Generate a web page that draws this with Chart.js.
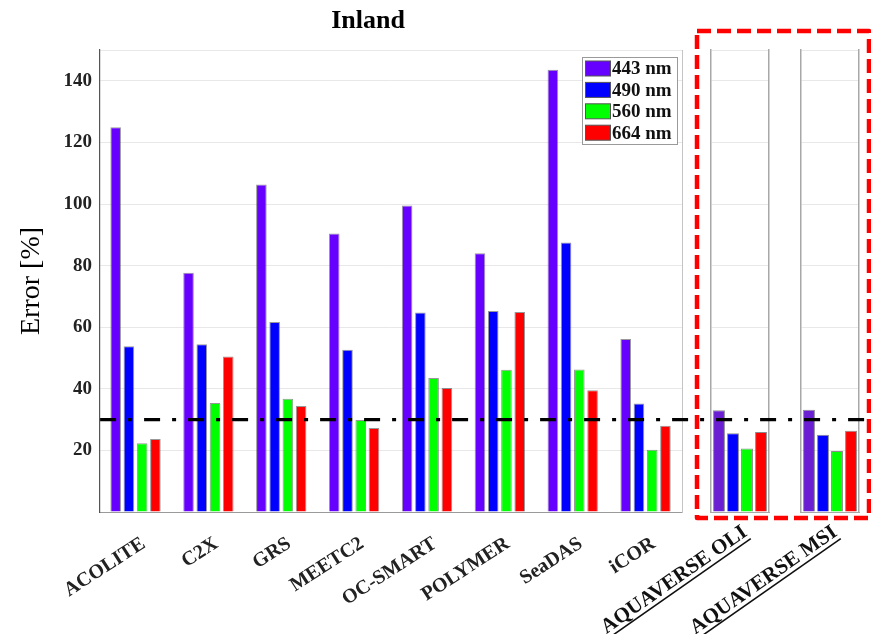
<!DOCTYPE html>
<html>
<head>
<meta charset="utf-8">
<script src="https://cdn.jsdelivr.net/npm/chart.js@4.4.0/dist/chart.umd.min.js"></script>
<style>
  body { margin: 0; background: #fff; }
  #wrap { position: relative; width: 871px; height: 634px; }
  #wrap canvas { position: absolute; left: 0; top: 0; }
</style>
</head>
<body>
<div id="wrap">
  <canvas id="panelOli" width="871" height="634" style="z-index:1"></canvas>
  <canvas id="panelMsi" width="871" height="634" style="z-index:2"></canvas>
  <canvas id="main" width="871" height="634" style="z-index:3"></canvas>
</div>
<script>
// Datos (error en %)
const algoritmos = ['ACOLITE', 'C2X', 'GRS', 'MEETC2', 'OC-SMART', 'POLYMER', 'SeaDAS', 'iCOR'];
const aquaverse = ['AQUAVERSE OLI', 'AQUAVERSE MSI'];
const bandas = ['443 nm', '490 nm', '560 nm', '664 nm'];
const err443 = [124.9, 77.7, 106.3, 90.4, 99.5, 84.0, 143.6, 56.2];
const err490 = [53.8, 54.5, 61.7, 52.7, 64.8, 65.3, 87.5, 35.2];
const err560 = [22.3, 35.4, 36.8, 29.9, 43.5, 46.2, 46.3, 20.2];
const err664 = [23.7, 50.5, 34.4, 27.3, 40.3, 64.9, 39.5, 28.0];
const aquaOli = [33.0, 25.6, 20.6, 26.0];
const aquaMsi = [33.2, 25.1, 19.8, 26.4];
const umbral = 30;

// Estilos y posiciones de los paneles
const serif = 'Liberation Serif';
const colores = ['#6600ff', '#0000ff', '#00ff00', '#ff0000'];
const coloresPanel = ['#6a1fd2', '#0000ff', '#00ff00', '#ff0000'];
const panelSlots = [{ left: 711, right: 769 }, { left: 801, right: 859 }];
const seriesMain = [err443, err490, err560, err664];

// Leyenda dentro del area del grafico
const leyenda = {
    id: 'leyenda',
    afterDatasetsDraw(chart) {
        const ctx = chart.ctx, area = chart.chartArea;
        const w = 95, rowH = 21.4, h = 87;
        const left = area.right - 5 - w, top = area.top + 7;
        ctx.save();
        ctx.fillStyle = '#fff';
        ctx.fillRect(left, top, w, h);
        ctx.strokeStyle = '#9a9a9a';
        ctx.lineWidth = 1;
        ctx.strokeRect(left + 0.5, top + 0.5, w, h);
        ctx.font = 'bold 19px "' + serif + '"';
        ctx.textBaseline = 'middle';
        chart.data.datasets.forEach((ds, i) => {
            const cy = top + 11.5 + i * rowH;
            ctx.fillStyle = ds.backgroundColor;
            ctx.fillRect(left + 3, cy - 7.5, 25, 15);
            ctx.strokeStyle = '#555';
            ctx.strokeRect(left + 3.5, cy - 7.5, 25, 15);
            ctx.fillStyle = '#111';
            ctx.fillText(ds.label, left + 30, cy + 1);
        });
        ctx.restore();
    }
};

// Linea de umbral y recuadro rojo de AQUAVERSE
const umbralYRecuadro = {
    id: 'umbralYRecuadro',
    afterDraw(chart) {
        const ctx = chart.ctx, area = chart.chartArea;
        const y = chart.scales.y.getPixelForValue(umbral);
        ctx.save();
        ctx.strokeStyle = '#000';
        ctx.lineWidth = 3.3;
        ctx.setLineDash([16, 12, 4, 12]);
        ctx.beginPath();
        ctx.moveTo(area.left + 1, y);
        ctx.lineTo(chart.width, y);
        ctx.stroke();

        const bx = panelSlots[0].left - 14, bx2 = panelSlots[1].right + 10;
        const by = area.top - 19, by2 = area.bottom + 6;
        ctx.strokeStyle = '#ff0000';
        ctx.lineWidth = 4.5;
        ctx.lineJoin = 'round';
        ctx.setLineDash([14, 6]);
        ctx.strokeRect(bx, by, bx2 - bx, by2 - by);
        ctx.restore();
    }
};

// Subraya las etiquetas de los paneles
const subrayado = {
    id: 'subrayado',
    afterDraw(chart) {
        const ctx = chart.ctx;
        chart.scales.x.getLabelItems().forEach(item => {
            const [tx, ty] = item.options.translation;
            ctx.save();
            ctx.translate(tx, ty);
            ctx.rotate(item.options.rotation);
            ctx.font = item.font.string;
            const w = ctx.measureText(item.label).width;
            const yy = item.textOffset + item.font.size * 0.48;
            ctx.strokeStyle = '#111';
            ctx.lineWidth = 1.6;
            ctx.beginPath();
            ctx.moveTo(-w, yy);
            ctx.lineTo(0, yy);
            ctx.stroke();
            ctx.restore();
        });
    }
};

const fuenteEje = { family: serif, size: 19, weight: 'bold' };
const fuenteEtiqueta = { family: serif, size: 20, weight: 'bold' };

const mainChart = new Chart(document.getElementById('main'), {
    type: 'bar',
    data: {
        labels: algoritmos,
        datasets: bandas.map((b, i) => ({
            label: b,
            data: seriesMain[i],
            backgroundColor: colores[i],
            borderColor: 'rgba(50,50,50,0.5)',
            borderWidth: 1,
            categoryPercentage: 0.727,
            barPercentage: 0.8
        }))
    },
    options: {
        responsive: false,
        animation: false,
        layout: { padding: { left: 8, right: 143, top: 0, bottom: 2 } },
        plugins: {
            legend: { display: false },
            tooltip: { enabled: false },
            title: {
                display: true,
                text: 'Inland',
                color: '#000',
                font: { family: serif, size: 26, weight: 'bold' },
                padding: { top: 6, bottom: 12.8 }
            }
        },
        scales: {
            x: {
                grid: { display: false },
                border: { color: '#9a9a9a' },
                ticks: {
                    color: '#222',
                    font: fuenteEtiqueta,
                    minRotation: 33,
                    maxRotation: 33,
                    padding: 12,
                    labelOffset: 8,
                    autoSkip: false
                },
                afterFit: s => { s.height = 120; }
            },
            y: {
                min: 0,
                max: 150,
                grid: { color: '#e8e8e8', drawTicks: false },
                border: { color: '#555', width: 1.2 },
                ticks: {
                    stepSize: 20,
                    padding: 7,
                    color: '#222',
                    font: fuenteEje,
                    callback: v => (v > 0 && v % 20 === 0 ? v : '')
                },
                title: {
                    display: true,
                    text: 'Error [%]',
                    color: '#000',
                    font: { family: serif, size: 28 },
                    padding: { top: 7, bottom: 8 }
                }
            },
            y2: {
                position: 'right',
                display: true,
                grid: { display: false },
                ticks: { display: false },
                border: { color: '#c4c4c4' },
                afterFit: s => { s.width = 46; }
            }
        }
    },
    plugins: [leyenda, umbralYRecuadro]
});

function crearPanel(id, nombre, valores, slot) {
    return new Chart(document.getElementById(id), {
        type: 'bar',
        data: {
            labels: [nombre],
            datasets: bandas.map((b, i) => ({
                label: b,
                data: [valores[i]],
                backgroundColor: coloresPanel[i],
                borderColor: 'rgba(110,110,110,0.8)',
                borderWidth: 1,
                categoryPercentage: 0.966,
                barPercentage: 0.85
            }))
        },
        options: {
            responsive: false,
            animation: false,
            layout: { padding: { left: slot.left, right: 871 - slot.right, top: 50, bottom: 0 } },
            plugins: { legend: { display: false }, tooltip: { enabled: false } },
            scales: {
                x: {
                    grid: { display: false },
                    border: { color: '#a8a8a8' },
                    ticks: {
                        color: '#111',
                        font: { family: serif, size: 21, weight: 'bold' },
                        minRotation: 35,
                        maxRotation: 35,
                        padding: 0,
                        labelOffset: 5,
                        autoSkip: false
                    },
                    afterFit: s => { s.height = 634 - 512; }
                },
                y: {
                    min: 0,
                    max: 150,
                    grid: { color: '#e8e8e8', drawTicks: false },
                    border: { color: '#a8a8a8', width: 1.5 },
                    ticks: { display: false, stepSize: 20 },
                    afterFit: s => { s.width = 0; }
                },
                y2: {
                    position: 'right',
                    display: true,
                    grid: { display: false },
                    ticks: { display: false },
                    border: { color: '#a8a8a8', width: 1.5 },
                    afterFit: s => { s.width = 0; }
                }
            }
        },
        plugins: [subrayado]
    });
}

crearPanel('panelOli', aquaverse[0], aquaOli, panelSlots[0]);
crearPanel('panelMsi', aquaverse[1], aquaMsi, panelSlots[1]);
</script>
</body>
</html>
